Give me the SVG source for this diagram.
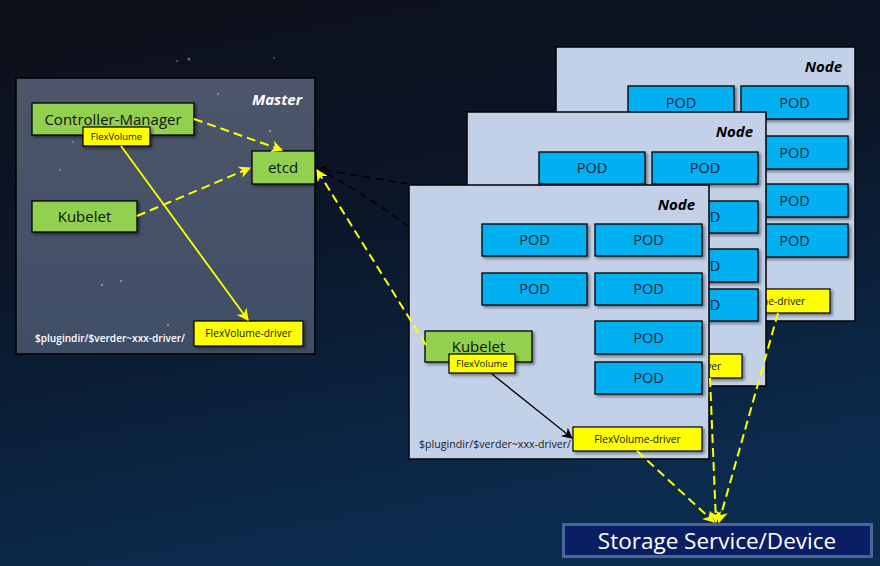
<svg xmlns="http://www.w3.org/2000/svg" width="880" height="566" viewBox="0 0 880 566">
  <defs>
    <linearGradient id="bg" x1="0" y1="0" x2="0.3" y2="1">
      <stop offset="0" stop-color="#0d1019"/>
      <stop offset="0.45" stop-color="#0b1628"/>
      <stop offset="1" stop-color="#0c2c4e"/>
    </linearGradient>
    <linearGradient id="masterFill" x1="0" y1="0" x2="0" y2="1">
      <stop offset="0" stop-color="#4d566a"/>
      <stop offset="1" stop-color="#3f4e66"/>
    </linearGradient>
    <filter id="sh" x="-10%" y="-10%" width="130%" height="140%">
      <feDropShadow dx="2" dy="2" stdDeviation="1.5" flood-color="#000" flood-opacity="0.45"/>
    </filter>
    <marker id="ay" viewBox="0 0 10 10" refX="9" refY="5" markerWidth="12" markerHeight="12" markerUnits="userSpaceOnUse" orient="auto">
      <path d="M0,0 L10,5 L0,10 L3,5 z" fill="#ffff00"/>
    </marker>
    <marker id="ak" viewBox="0 0 10 10" refX="9" refY="5" markerWidth="11" markerHeight="11" markerUnits="userSpaceOnUse" orient="auto">
      <path d="M0,0 L10,5 L0,10 L3,5 z" fill="#000"/>
    </marker>
    <style>
      .panel{stroke:#000;stroke-width:1.5}
      .node{fill:#c2d1e8;stroke:#000;stroke-width:1.5}
      .pod{fill:#00b0f0;stroke:#000;stroke-width:1.3;filter:url(#sh)}
      .green{fill:#92d050;stroke:#000;stroke-width:1.3;filter:url(#sh)}
      .ylw{fill:#ffff00;stroke:#000;stroke-width:1.2;filter:url(#sh)}
      .t{font-family:"Open Sans","Noto Sans",sans-serif;fill:#111;text-anchor:middle}
      .pt{font-size:14.5px;fill:#10243a}
      .gt{font-size:15px}
      .lt{font-size:9.5px}
      .dt{font-size:10.2px}
      .ttl{font-family:"Open Sans","Noto Sans",sans-serif;font-weight:bold;font-style:italic;font-size:15px;text-anchor:end}
      .path{font-family:"Open Sans","Noto Sans",sans-serif;font-size:10.5px}
      .dy{fill:none;stroke:#ffff00;stroke-width:2;stroke-dasharray:9 5}
      .sy{fill:none;stroke:#ffff00;stroke-width:1.8}
      .dk{fill:none;stroke:#000;stroke-width:1.5;stroke-dasharray:8 5}
      .sk{fill:none;stroke:#000;stroke-width:1.3}
      .star{fill:#ffffff;opacity:0.35}
    </style>
  </defs>

  <rect x="0" y="0" width="880" height="566" fill="url(#bg)"/>
  <g id="stars">
    <circle class="star" cx="189" cy="59" r="1.6"/>
    <circle class="star" cx="177" cy="61" r="1"/>
    <circle class="star" cx="274" cy="58" r="1"/>
  </g>

  <!-- Master -->
  <g id="master">
    <rect class="panel" x="16" y="78" width="299" height="276" fill="url(#masterFill)"/>
    <circle class="star" cx="218" cy="94" r="1.2"/>
    <circle class="star" cx="270" cy="131" r="1.2"/>
    <circle class="star" cx="73" cy="142" r="1"/>
    <circle class="star" cx="60" cy="170" r="1"/>
    <circle class="star" cx="102" cy="285" r="1.2"/>
    <circle class="star" cx="121" cy="281" r="1.2"/>
    <circle class="star" cx="168" cy="325" r="1.2"/>
    <text class="ttl" x="302" y="105" fill="#ffffff">Master</text>
    <text class="path" x="35" y="342" fill="#ffffff" font-weight="600" font-size="10px" textLength="150" lengthAdjust="spacingAndGlyphs">$plugindir/$verder~xxx-driver/</text>
  </g>
  <g id="controller-manager">
    <rect class="green" x="32" y="103" width="162" height="32"/>
    <text class="t gt" x="113" y="125">Controller-Manager</text>
  </g>
  <g id="cm-flexvolume">
    <rect class="ylw" x="83" y="127" width="67" height="19"/>
    <text class="t lt" x="116.5" y="140">FlexVolume</text>
  </g>
  <g id="master-kubelet">
    <rect class="green" x="32" y="201" width="105" height="31"/>
    <text class="t gt" x="84.5" y="222">Kubelet</text>
  </g>
  <g id="etcd">
    <rect class="green" x="252" y="151" width="63" height="33"/>
    <text class="t gt" x="283" y="173">etcd</text>
  </g>
  <g id="master-driver">
    <rect class="ylw" x="194" y="321" width="109" height="25"/>
    <text class="t dt" x="248.5" y="337">FlexVolume-driver</text>
  </g>

  <!-- Back node -->
  <g id="node-back" transform="translate(556,47)">
    <rect class="node" x="0" y="0" width="299" height="274"/>
    <text class="ttl" x="286" y="25" fill="#000">Node</text>
    <rect class="pod" x="72" y="39" width="106" height="33"/><text class="t pt" x="125" y="61">POD</text>
    <rect class="pod" x="185" y="39" width="107" height="33"/><text class="t pt" x="238.5" y="61">POD</text>
    <rect class="pod" x="72" y="89" width="106" height="33"/><text class="t pt" x="125" y="111">POD</text>
    <rect class="pod" x="185" y="89" width="107" height="33"/><text class="t pt" x="238.5" y="111">POD</text>
    <rect class="pod" x="185" y="137" width="107" height="33"/><text class="t pt" x="238.5" y="159">POD</text>
    <rect class="pod" x="185" y="177" width="107" height="33"/><text class="t pt" x="238.5" y="199">POD</text>
    <rect class="ylw" x="146" y="242" width="128" height="24"/>
    <text class="t dt" x="206" y="258">FlexVolume-driver</text>
  </g>

  <!-- Middle node -->
  <g id="node-middle" transform="translate(467,112)">
    <rect class="node" x="0" y="0" width="299" height="274"/>
    <text class="ttl" x="286" y="25" fill="#000">Node</text>
    <rect class="pod" x="72" y="40" width="106" height="32"/><text class="t pt" x="125" y="61">POD</text>
    <rect class="pod" x="185" y="40" width="106" height="32"/><text class="t pt" x="238" y="61">POD</text>
    <rect class="pod" x="72" y="89" width="106" height="32"/><text class="t pt" x="125" y="110">POD</text>
    <rect class="pod" x="185" y="89" width="106" height="32"/><text class="t pt" x="238" y="110">POD</text>
    <rect class="pod" x="185" y="137" width="106" height="33"/><text class="t pt" x="238" y="159">POD</text>
    <rect class="pod" x="185" y="177" width="106" height="32"/><text class="t pt" x="238" y="198">POD</text>
    <rect class="ylw" x="147" y="242" width="128" height="24"/>
    <text class="t dt" x="211" y="258">FlexVolume-driver</text>
  </g>

  <!-- Front node -->
  <g id="node-front" transform="translate(409,185)">
    <rect class="node" x="0" y="0" width="300" height="274"/>
    <text class="ttl" x="286" y="25" fill="#000">Node</text>
    <rect class="pod" x="73" y="39" width="105" height="32"/><text class="t pt" x="125.5" y="60">POD</text>
    <rect class="pod" x="186" y="39" width="107" height="32"/><text class="t pt" x="239.5" y="60">POD</text>
    <rect class="pod" x="73" y="88" width="105" height="32"/><text class="t pt" x="125.5" y="109">POD</text>
    <rect class="pod" x="186" y="88" width="107" height="32"/><text class="t pt" x="239.5" y="109">POD</text>
    <rect class="pod" x="186" y="136" width="107" height="33"/><text class="t pt" x="239.5" y="158">POD</text>
    <rect class="pod" x="186" y="177" width="107" height="32"/><text class="t pt" x="239.5" y="198">POD</text>
    <text class="path" x="10" y="263" fill="#1a1a1a" textLength="152" lengthAdjust="spacingAndGlyphs">$plugindir/$verder~xxx-driver/</text>
  </g>
  <g id="node-kubelet">
    <rect class="green" x="425" y="331" width="107" height="31"/>
    <text class="t gt" x="478.5" y="352">Kubelet</text>
  </g>
  <g id="node-flexvolume">
    <rect class="ylw" x="449" y="354" width="66" height="19"/>
    <text class="t lt" x="482" y="367">FlexVolume</text>
  </g>
  <g id="node-driver">
    <rect class="ylw" x="573" y="427" width="129" height="24"/>
    <text class="t dt" x="637.5" y="443">FlexVolume-driver</text>
  </g>

  <!-- Storage -->
  <g id="storage">
    <rect x="563.5" y="524.5" width="308" height="32" fill="#0a1f63" stroke="#47679a" stroke-width="3"/>
    <text x="717" y="549" font-family="'Open Sans','Noto Sans',sans-serif" font-size="22.5px" fill="#ffffff" text-anchor="middle">Storage Service/Device</text>
  </g>

  <!-- Connectors -->
  <g id="connectors">
    <line class="dy" x1="194" y1="119" x2="282" y2="150" marker-end="url(#ay)"/>
    <line class="dy" x1="137" y1="216" x2="250" y2="168" marker-end="url(#ay)"/>
    <line class="sy" x1="121" y1="146" x2="248" y2="320" marker-end="url(#ay)"/>
    <path class="dk" d="M409,184 L317,169" marker-end="url(#ak)"/>
    <path class="dk" d="M409,227 Q360,190 317,169" marker-end="url(#ak)"/>
    <line class="dy" x1="426" y1="345" x2="317" y2="170" marker-end="url(#ay)"/>
    <line class="sk" x1="492" y1="374" x2="572" y2="438" marker-end="url(#ak)"/>
    <line class="dy" x1="637" y1="451" x2="714" y2="522" marker-end="url(#ay)"/>
    <line class="dy" x1="710" y1="378" x2="716" y2="522" marker-end="url(#ay)"/>
    <line class="dy" x1="778" y1="313" x2="719" y2="522" marker-end="url(#ay)"/>
  </g>
</svg>
